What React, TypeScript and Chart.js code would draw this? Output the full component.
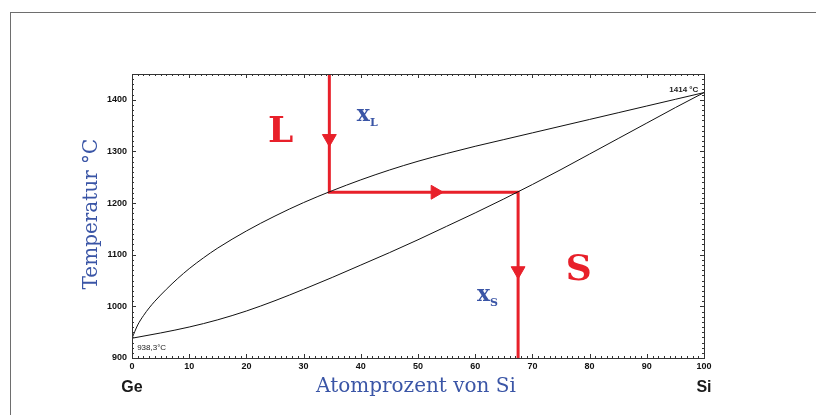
import React, { useEffect, useRef } from "react";
import { Chart, registerables } from "chart.js";
Chart.register(...registerables);

// Liquidus (upper curve) and solidus (lower curve) of Ge–Si
const liquidusX = [0, 1, 2, 3, 4, 6, 8, 10, 12.5, 15, 20, 25, 30, 35, 40, 45, 50, 55, 60, 65, 70, 75, 80, 85, 90, 95, 100];
const liquidusT = [938.3, 964, 982, 997, 1010, 1033, 1054, 1073, 1094, 1113, 1146, 1175, 1201, 1224, 1245, 1264, 1281, 1296, 1310, 1323, 1336, 1349, 1362, 1375, 1388, 1401, 1414];
const solidusX = [0, 5, 10, 15, 20, 25, 30, 35, 40, 45, 50, 55, 60, 65, 70, 75, 80, 85, 90, 95, 100];
const solidusT = [938.3, 948.5, 960, 974, 991, 1011, 1033, 1056, 1080, 1104, 1129, 1155, 1181, 1208, 1236, 1265, 1295, 1325, 1355, 1385, 1414];

// Tie-line construction (red arrows)
const xLiquid = 34.5;
const xSolid = 67.5;
const tieT = 1221;
const pathX = [xLiquid, xLiquid, xSolid, xSolid];
const pathT = [1450, tieT, tieT, 900];
const arrowX = [xLiquid, 53, xSolid];
const arrowT = [1325, tieT, 1069];
const arrowRot = [180, 90, 180];

// Axes
const xTicks = [0, 10, 20, 30, 40, 50, 60, 70, 80, 90, 100];
const yTicks = [900, 1000, 1100, 1200, 1300, 1400];
const xMin = 0, xMax = 100, yMin = 900, yMax = 1450;

const RED = "#e8202a";
const BLUE = "#3a55a6";
const SERIF = "'DejaVu Serif', serif";
const SANS = "'Liberation Sans', Arial, sans-serif";

const decor = {
  id: "decor",
  beforeDraw(chart: any) {
    const ctx = chart.ctx;
    ctx.save();
    ctx.fillStyle = "#fff";
    ctx.fillRect(0, 0, chart.width, chart.height);
    ctx.strokeStyle = "#6e6e6e";
    ctx.lineWidth = 1;
    ctx.strokeRect(10.5, 12.5, 1000, 1000);
    ctx.restore();
  },
  afterDraw(chart: any) {
    const ctx = chart.ctx;
    const xs = chart.scales.x;
    const ys = chart.scales.y;
    const a = chart.chartArea;
    ctx.save();
    // frame
    ctx.strokeStyle = "#333";
    ctx.lineWidth = 1;
    ctx.strokeRect(Math.round(a.left) + 0.5, Math.round(a.top) + 0.5, Math.round(a.right - a.left), Math.round(a.bottom - a.top));
    // inward ticks
    ctx.beginPath();
    for (let v = xMin; v <= xMax; v += 1) {
      const p = Math.round(xs.getPixelForValue(v)) + 0.5;
      const len = v % 10 === 0 ? 4 : 2;
      ctx.moveTo(p, a.bottom);
      ctx.lineTo(p, a.bottom - len);
      ctx.moveTo(p, a.top);
      ctx.lineTo(p, a.top + len);
    }
    for (let v = yMin; v <= yMax; v += 10) {
      const p = Math.round(ys.getPixelForValue(v)) + 0.5;
      const len = v % 100 === 0 ? 4 : 2;
      ctx.moveTo(a.left, p);
      ctx.lineTo(a.left + len, p);
      ctx.moveTo(a.right, p);
      ctx.lineTo(a.right - len, p);
    }
    ctx.stroke();

    // phase labels
    ctx.fillStyle = RED;
    ctx.textAlign = "center";
    ctx.textBaseline = "middle";
    ctx.font = `bold 36px ${SERIF}`;
    ctx.fillText("L", xs.getPixelForValue(26), ys.getPixelForValue(1336));
    ctx.fillText("S", xs.getPixelForValue(78.1), ys.getPixelForValue(1070));

    // x_L and x_S
    ctx.fillStyle = BLUE;
    ctx.textAlign = "left";
    ctx.textBaseline = "alphabetic";
    const sub = (x: number, t: number, main: string, s: string) => {
      const px = xs.getPixelForValue(x);
      const py = ys.getPixelForValue(t);
      ctx.font = `bold 22px ${SERIF}`;
      ctx.fillText(main, px, py);
      const w = ctx.measureText(main).width;
      ctx.font = `bold 11px ${SERIF}`;
      ctx.fillText(s, px + w, py + 5);
    };
    sub(39.3, 1359, "x", "L");
    sub(60.3, 1010, "x", "S");

    // temperature annotations
    ctx.fillStyle = "#222";
    ctx.font = `bold 8px ${SANS}`;
    ctx.textAlign = "right";
    ctx.fillText("1414 °C", xs.getPixelForValue(99), ys.getPixelForValue(1415));
    ctx.font = `8px ${SANS}`;
    ctx.textAlign = "left";
    ctx.fillText("938,3°C", xs.getPixelForValue(0.9), ys.getPixelForValue(915));

    // Ge / Si
    ctx.fillStyle = "#1a1a1a";
    ctx.font = `bold 16px ${SANS}`;
    ctx.textAlign = "center";
    ctx.fillText("Ge", xs.getPixelForValue(xMin), 392);
    ctx.fillText("Si", xs.getPixelForValue(xMax), 392);

    // axis titles
    ctx.fillStyle = BLUE;
    ctx.font = `20px ${SERIF}`;
    ctx.textAlign = "center";
    ctx.fillText("Atomprozent von Si", (a.left + a.right) / 2 - 2, 392);
    ctx.save();
    ctx.translate(97, (a.top + a.bottom) / 2 - 2);
    ctx.rotate(-Math.PI / 2);
    ctx.fillText("Temperatur °C", 0, 0);
    ctx.restore();
    ctx.restore();
  },
};

export default function App() {
  const ref = useRef<HTMLCanvasElement | null>(null);
  useEffect(() => {
    if (!ref.current) return;
    const chart = new Chart(ref.current, {
      type: "line",
      data: {
        datasets: [
          {
            label: "Liquidus",
            data: liquidusX.map((x, i) => ({ x, y: liquidusT[i] })),
            borderColor: "#111",
            borderWidth: 1,
            pointRadius: 0,
            cubicInterpolationMode: "monotone",
            fill: false,
          },
          {
            label: "Solidus",
            data: solidusX.map((x, i) => ({ x, y: solidusT[i] })),
            borderColor: "#111",
            borderWidth: 1,
            pointRadius: 0,
            cubicInterpolationMode: "monotone",
            fill: false,
          },
          {
            label: "Pfad",
            data: pathX.map((x, i) => ({ x, y: pathT[i] })),
            borderColor: RED,
            borderWidth: 3,
            pointRadius: 0,
            tension: 0,
            borderJoinStyle: "miter",
            fill: false,
          },
          {
            label: "Pfeile",
            data: arrowX.map((x, i) => ({ x, y: arrowT[i] })),
            showLine: false,
            pointStyle: "triangle",
            pointRadius: 8,
            pointRotation: arrowRot,
            pointBackgroundColor: RED,
            pointBorderColor: RED,
            pointBorderWidth: 1,
          },
        ],
      },
      options: {
        animation: false,
        responsive: false,
        events: [],
        layout: { padding: { left: 0, top: 74, right: 112, bottom: 0 } },
        plugins: { legend: { display: false }, tooltip: { enabled: false } },
        scales: {
          x: {
            type: "linear",
            min: xMin,
            max: xMax,
            grid: { display: false, drawTicks: false },
            border: { display: false },
            afterFit: (s: any) => { s.height = 57; },
            afterBuildTicks: (s: any) => { s.ticks = xTicks.map((v) => ({ value: v })); },
            ticks: { color: "#111", padding: 3, font: { family: SANS, size: 9, weight: "bold" }, maxRotation: 0, callback: (v: any) => String(v) },
          },
          y: {
            type: "linear",
            min: yMin,
            max: yMax,
            grid: { display: false, drawTicks: false },
            border: { display: false },
            afterFit: (s: any) => { s.width = 132; },
            afterBuildTicks: (s: any) => { s.ticks = yTicks.map((v) => ({ value: v })); },
            ticks: { color: "#111", padding: 5, font: { family: SANS, size: 9, weight: "bold" }, callback: (v: any) => String(v) },
          },
        },
      },
      plugins: [decor],
    } as any);
    return () => chart.destroy();
  }, []);
  return (
    <div style={{ position: "fixed", left: 0, top: 0, width: 816, height: 415, background: "#fff" }}>
      <canvas ref={ref} width={816} height={415} style={{ display: "block", width: 816, height: 415 }} />
    </div>
  );
}
